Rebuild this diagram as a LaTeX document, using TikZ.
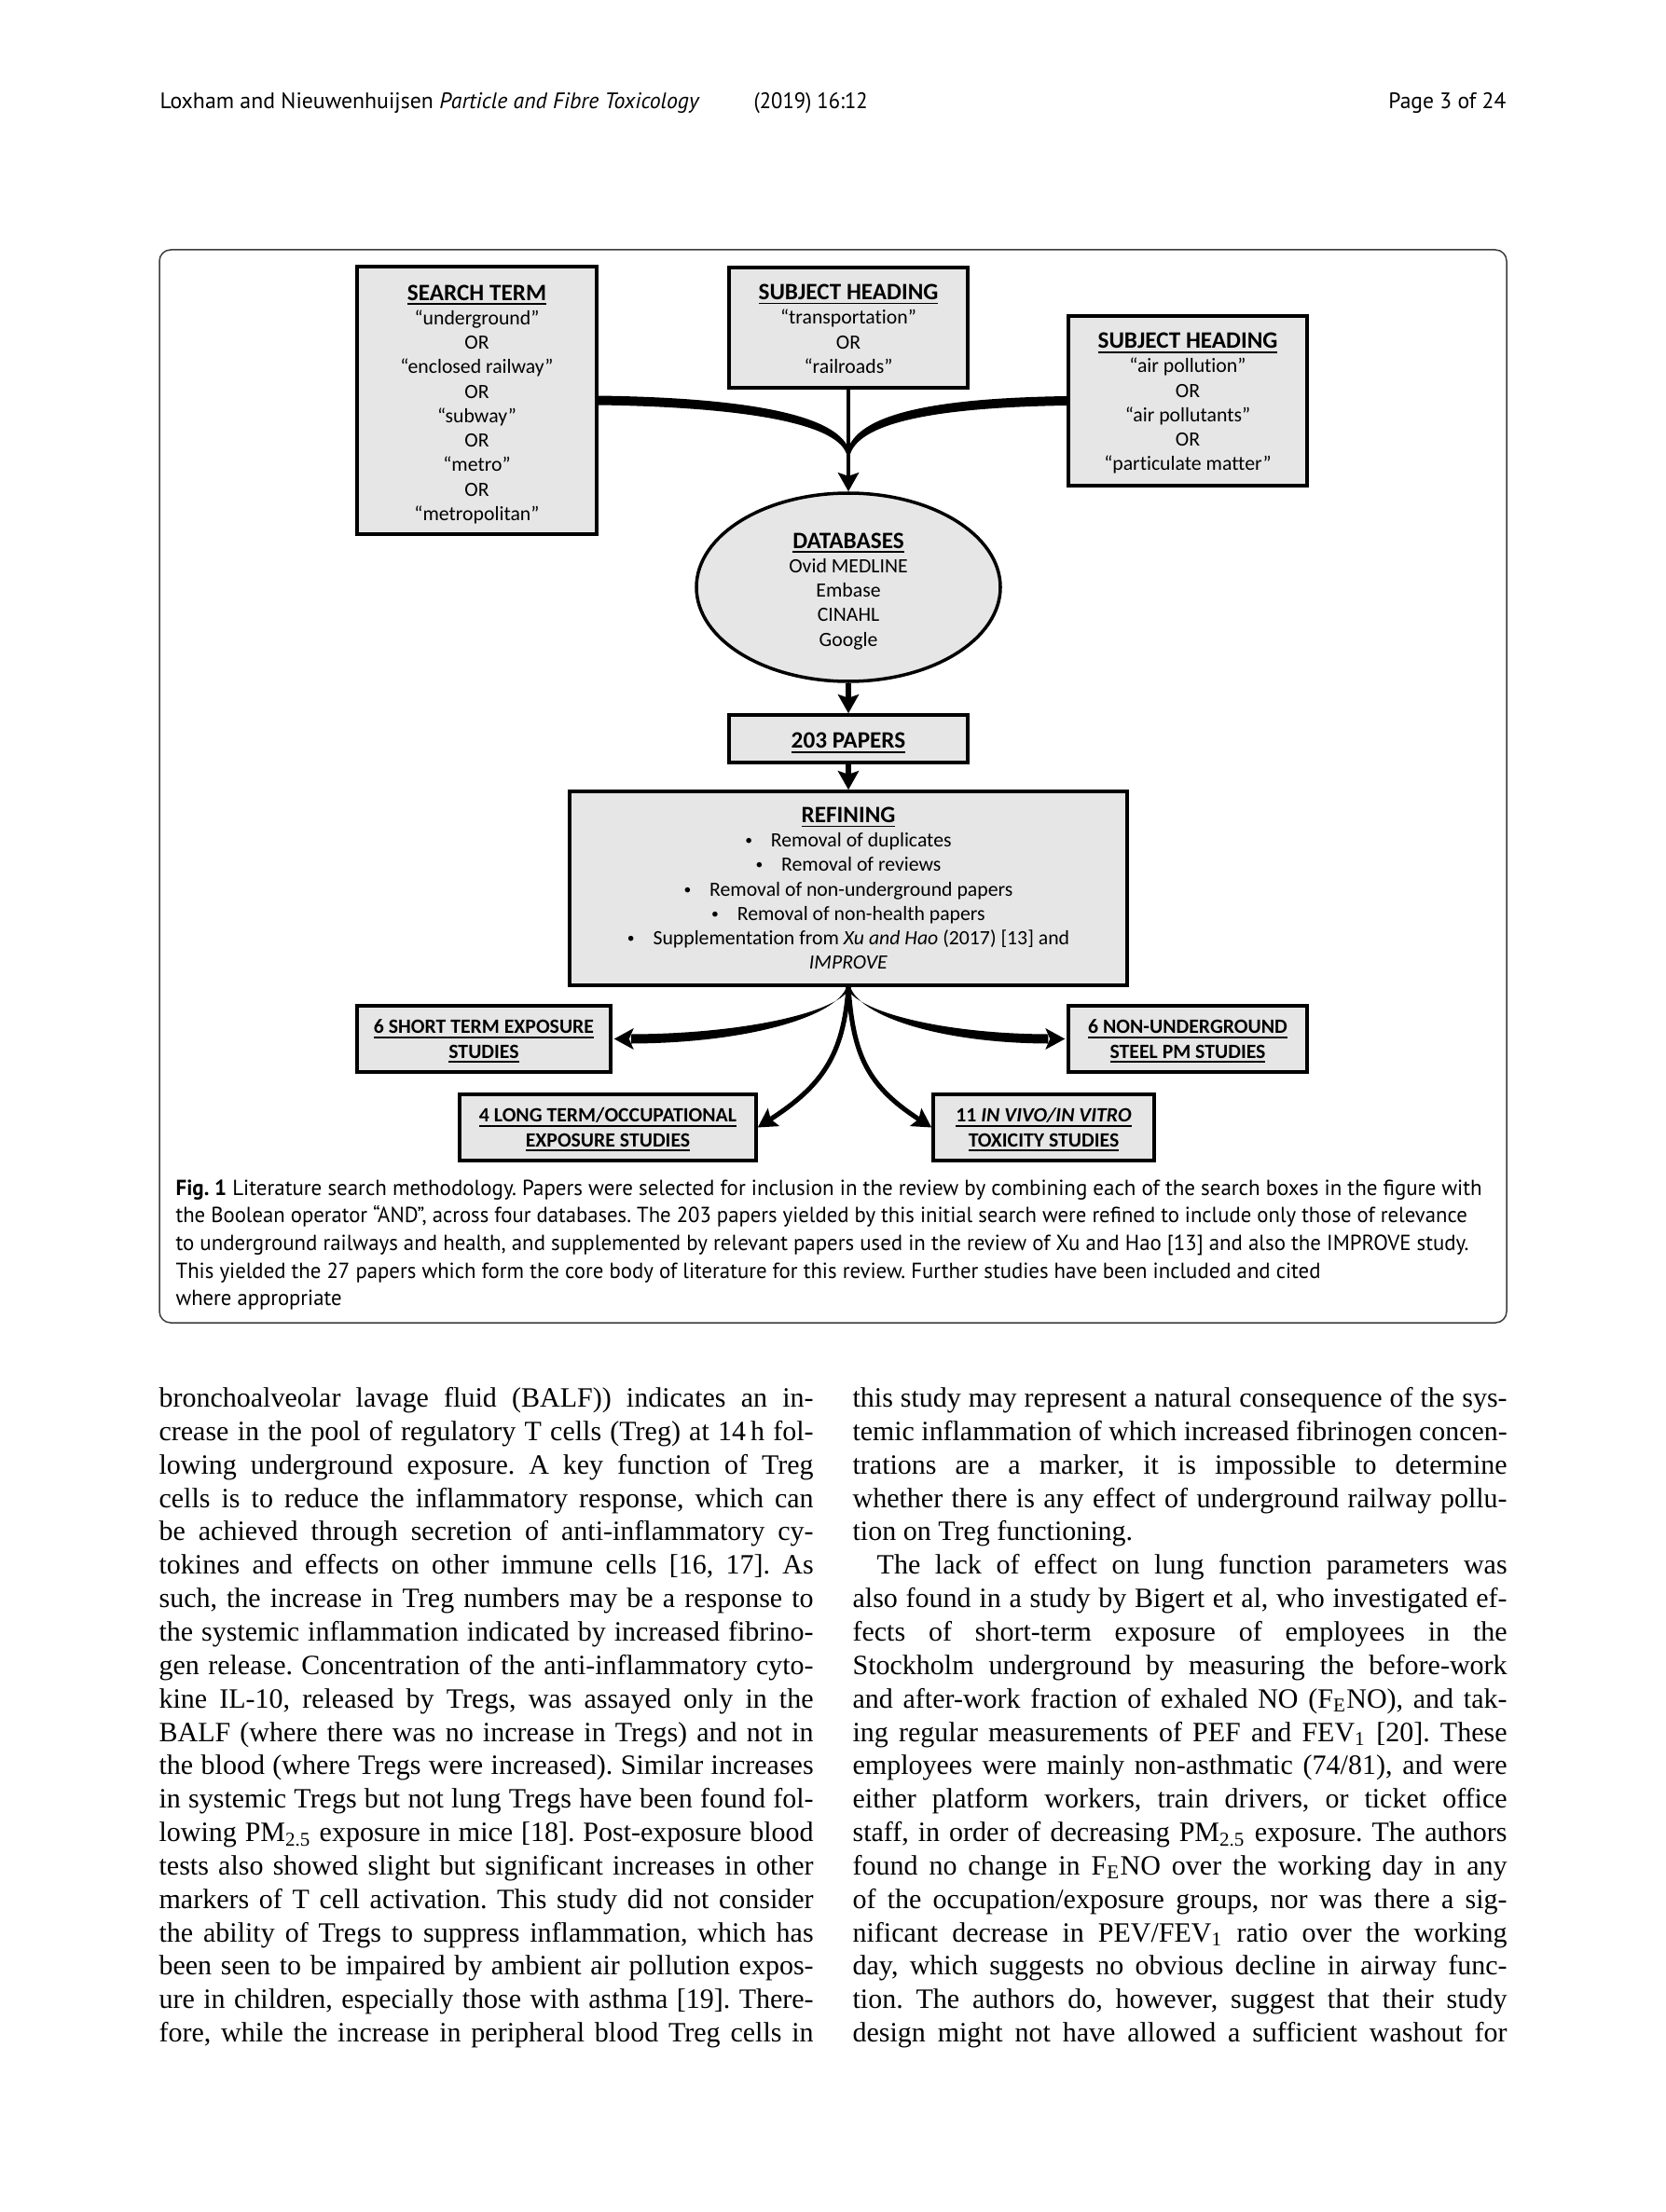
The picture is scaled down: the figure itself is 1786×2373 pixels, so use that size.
\documentclass[tikz,border=0pt]{standalone}
\usepackage{fontspec}
\usepackage{graphicx}
\setmainfont{Liberation Serif}
\newfontfamily\calfont{Carlito}[Ligatures=NoCommon]
\newfontfamily\ptfont{PT Sans}
\usetikzlibrary{arrows.meta,shapes.geometric,calc}
\definecolor{boxgray}{RGB}{230,230,230}
\definecolor{framegray}{RGB}{60,60,60}
\newlength\colw \setlength\colw{234pt}
\frenchspacing
\newcommand\jl[1]{\setbox0=\hbox{#1}\ifdim\wd0>\colw\resizebox{\colw}{\height}{#1}\else\hbox to\colw{#1}\fi}
\newcommand\fw[2]{\resizebox{#1}{\height}{#2}}
\newcommand\myul[1]{\setbox2=\hbox{#1}\rlap{\rule[-1.6pt]{\wd2}{0.55pt}}\box2}
\newcommand\ttl[1]{{\fontsize{8.4}{8.75}\selectfont\bfseries\myul{#1}}}
\newcommand\btl[1]{{\bfseries\myul{#1}}}
\newcommand\bul[1]{\makebox[9.2pt][l]{\raisebox{0.7pt}{\fontsize{5.2}{6}\selectfont\textbullet}}#1}
\newcommand\topgap[1]{\mbox{}\\[#1]}
\begin{document}
\begin{tikzpicture}[x=0.333333pt,y=-0.333333pt,
  box/.style={draw=black, line width=1.17pt, fill=boxgray, inner sep=0pt, align=center,
    font=\calfont\fontsize{7.25}{8.75}\selectfont},
  arr/.style={line width=1.9pt, -{Stealth[length=6.7pt,width=7.4pt,inset=1.2pt]}},
  inarr/.style={line width=1.7pt, -{Stealth[length=6.7pt,width=7.4pt,inset=1.2pt]}},
  bodytxt/.style={anchor=base west, inner sep=0pt, font=\fontsize{10}{12}\selectfont},
  captxt/.style={anchor=base west, inner sep=0pt, font=\ptfont\fontsize{7.8}{9.9}\selectfont},
  hdrtxt/.style={inner sep=0pt, font=\ptfont\fontsize{8}{9.6}\selectfont}]
\useasboundingbox (0,0) rectangle (1786,2373);
\fill[white] (0,0) rectangle (1786,2373);

% header
\node[hdrtxt, anchor=base west] (h1) at (171,117) {\fw{193pt}{Loxham and Nieuwenhuijsen \textit{Particle and Fibre Toxicology}}};
\node[hdrtxt, anchor=base west] (h2) at (808,117) {\fw{40.67pt}{(2019) 16:12}};
\node[hdrtxt, anchor=base east] (h3) at (1616,117) {\fw{42pt}{Page 3 of 24}};

% figure frame
\draw[line width=0.5pt, draw=framegray, rounded corners=4pt] (171,268) rectangle (1616,1419);

% boxes
\node[box, minimum width=85.67pt, minimum height=95.67pt] (search) at (511.5,429.5)
  {\topgap{-0.35pt}\ttl{SEARCH TERM}\\“underground”\\OR\\“enclosed railway”\\OR\\“subway”\\OR\\“metro”\\OR\\“metropolitan”};
\node[box, minimum width=85.33pt, minimum height=43pt] (msub) at (910,351.5)
  {\topgap{-2.35pt}\ttl{SUBJECT HEADING}\\“transportation”\\OR\\“railroads”};
\node[box, minimum width=85.33pt, minimum height=60.67pt] (rsub) at (1274,430)
  {\topgap{-1.35pt}\ttl{SUBJECT HEADING}\\“air pollution”\\OR\\“air pollutants”\\OR\\“particulate matter”};
\node[box, ellipse, minimum width=108.67pt, minimum height=67.33pt] (db) at (910,630)
  {\topgap{-0.35pt}\ttl{DATABASES}\\Ovid MEDLINE\\Embase\\CINAHL\\Google};
\node[box, minimum width=85.33pt, minimum height=17pt] (papers) at (910,792.5)
  {\topgap{-0.35pt}\ttl{203 PAPERS}};
\node[box, minimum width=199.33pt, minimum height=69.33pt] (refining) at (910,953)
  {\ttl{REFINING}\\\bul{Removal of duplicates}\\\bul{Removal of reviews}\\\bul{Removal of non-underground papers}\\\bul{Removal of non-health papers}\\\bul{Supplementation from \textit{Xu and Hao} (2017) [13] and}\\\textit{IMPROVE}};
\node[box, minimum width=90.67pt, minimum height=23.67pt] (short) at (519,1114.5)
  {\topgap{-2.1pt}\btl{6 SHORT TERM EXPOSURE}\\\btl{STUDIES}};
\node[box, minimum width=85.33pt, minimum height=23.67pt] (nonund) at (1274,1114.5)
  {\topgap{-2.1pt}\btl{6 NON-UNDERGROUND}\\\btl{STEEL PM STUDIES}};
\node[box, minimum width=106pt, minimum height=23.67pt] (long) at (652,1209.5)
  {\topgap{-2.1pt}\btl{4 LONG TERM/OCCUPATIONAL}\\\btl{EXPOSURE STUDIES}};
\node[box, minimum width=79pt, minimum height=23.67pt] (invivo) at (1119.5,1209.5)
  {\topgap{-2.1pt}\btl{11 {\itshape IN VIVO/IN VITRO}}\\\btl{TOXICITY STUDIES}};

% top connectors
\coordinate (merge) at (910,487);
\draw[line width=1.6pt, -{Stealth[length=6.7pt,width=7.4pt,inset=1.2pt]}] (msub.south) -- (db.north);
\fill[black] ($(search.east)+(0,-5)$) .. controls ($(search.east)+(140,-3)$) and ($(merge)+(-6,-46)$) .. ($(merge)+(2,0)$)
  -- ($(merge)+(-2,0)$) .. controls ($(merge)+(-14,-36)$) and ($(search.east)+(140,7)$) .. ($(search.east)+(0,5)$) -- cycle;
\fill[black] ($(rsub.west)+(0,-5)$) .. controls ($(rsub.west)+(-130,-3)$) and ($(merge)+(6,-46)$) .. ($(merge)+(-2,0)$)
  -- ($(merge)+(2,0)$) .. controls ($(merge)+(14,-36)$) and ($(rsub.west)+(-130,7)$) .. ($(rsub.west)+(0,5)$) -- cycle;
\draw[arr] (db.south) -- (papers.north);
\draw[arr] (papers.south) -- (refining.north);

% bottom connectors
\fill[black] ($(refining.south)+(2,0)$) .. controls ($(refining.south)+(-7,26)$) and ($(short.east)+(145,-5.5)$) .. ($(short.east)+(20,-5)$)
  -- ($(short.east)+(20,5)$) .. controls ($(short.east)+(145,4.5)$) and ($(refining.south)+(-13,32)$) .. ($(refining.south)+(-2,0)$) -- cycle;
\fill[black] ($(short.east)+(2,0)$) -- ($(short.east)+(23,-11.5)$) -- ($(short.east)+(18,0)$) -- ($(short.east)+(23,11.5)$) -- cycle;
\fill[black] ($(refining.south)+(-2,0)$) .. controls ($(refining.south)+(7,26)$) and ($(nonund.west)+(-135,-5.5)$) .. ($(nonund.west)+(-20,-5)$)
  -- ($(nonund.west)+(-20,5)$) .. controls ($(nonund.west)+(-135,4.5)$) and ($(refining.south)+(13,32)$) .. ($(refining.south)+(2,0)$) -- cycle;
\fill[black] ($(nonund.west)+(-2,0)$) -- ($(nonund.west)+(-23,-11.5)$) -- ($(nonund.west)+(-18,0)$) -- ($(nonund.west)+(-23,11.5)$) -- cycle;
\draw[inarr] (refining.south) .. controls ($(refining.south)+(-5,73)$) and ($(long.east)+(69,-44.5)$) .. (long.east);
\draw[inarr] (refining.south) .. controls ($(refining.south)+(5,73)$) and ($(invivo.west)+(-69,-44.5)$) .. (invivo.west);

% caption
\node[captxt] (c1) at (188,1282) {\fw{467pt}{\textbf{Fig. 1} Literature search methodology. Papers were selected for inclusion in the review by combining each of the search boxes in the figure with}};
\node[captxt] (c2) at (188,1311.7) {\fw{461.7pt}{the Boolean operator “AND”, across four databases. The 203 papers yielded by this initial search were refined to include only those of relevance}};
\node[captxt] (c3) at (188,1341.4) {\fw{462.3pt}{to underground railways and health, and supplemented by relevant papers used in the review of Xu and Hao [13] and also the IMPROVE study.}};
\node[captxt] (c4) at (188,1371.1) {\fw{409.3pt}{This yielded the 27 papers which form the core body of literature for this review. Further studies have been included and cited}};
\node[captxt] (c5) at (188,1400.8) {\fw{59.3pt}{where appropriate}};

% body text, left column
\node[bodytxt] (l1) at (170,{1509.5+35.85*0}) {\jl{bronchoalveolar lavage fluid (BALF)) indicates an in-}};
\node[bodytxt] (l2) at (170,{1509.5+35.85*1}) {\jl{crease in the pool of regulatory T cells (Treg) at 14\,h fol-}};
\node[bodytxt] (l3) at (170,{1509.5+35.85*2}) {\jl{lowing underground exposure. A key function of Treg}};
\node[bodytxt] (l4) at (170,{1509.5+35.85*3}) {\jl{cells is to reduce the inflammatory response, which can}};
\node[bodytxt] (l5) at (170,{1509.5+35.85*4}) {\jl{be achieved through secretion of anti-inflammatory cy-}};
\node[bodytxt] (l6) at (170,{1509.5+35.85*5}) {\jl{tokines and effects on other immune cells [16, 17]. As}};
\node[bodytxt] (l7) at (170,{1509.5+35.85*6}) {\jl{such, the increase in Treg numbers may be a response to}};
\node[bodytxt] (l8) at (170,{1509.5+35.85*7}) {\jl{the systemic inflammation indicated by increased fibrino-}};
\node[bodytxt] (l9) at (170,{1509.5+35.85*8}) {\jl{gen release. Concentration of the anti-inflammatory cyto-}};
\node[bodytxt] (l10) at (170,{1509.5+35.85*9}) {\jl{kine IL-10, released by Tregs, was assayed only in the}};
\node[bodytxt] (l11) at (170,{1509.5+35.85*10}) {\jl{BALF (where there was no increase in Tregs) and not in}};
\node[bodytxt] (l12) at (170,{1509.5+35.85*11}) {\jl{the blood (where Tregs were increased). Similar increases}};
\node[bodytxt] (l13) at (170,{1509.5+35.85*12}) {\jl{in systemic Tregs but not lung Tregs have been found fol-}};
\node[bodytxt] (l14) at (170,{1509.5+35.85*13}) {\jl{lowing PM\textsubscript{2.5} exposure in mice [18]. Post-exposure blood}};
\node[bodytxt] (l15) at (170,{1509.5+35.85*14}) {\jl{tests also showed slight but significant increases in other}};
\node[bodytxt] (l16) at (170,{1509.5+35.85*15}) {\jl{markers of T cell activation. This study did not consider}};
\node[bodytxt] (l17) at (170,{1509.5+35.85*16}) {\jl{the ability of Tregs to suppress inflammation, which has}};
\node[bodytxt] (l18) at (170,{1509.5+35.85*17}) {\jl{been seen to be impaired by ambient air pollution expos-}};
\node[bodytxt] (l19) at (170,{1509.5+35.85*18}) {\jl{ure in children, especially those with asthma [19]. There-}};
\node[bodytxt] (l20) at (170,{1509.5+35.85*19}) {\jl{fore, while the increase in peripheral blood Treg cells in}};

% body text, right column
\node[bodytxt] (r1) at (914,{1509.5+35.85*0}) {\jl{this study may represent a natural consequence of the sys-}};
\node[bodytxt] (r2) at (914,{1509.5+35.85*1}) {\jl{temic inflammation of which increased fibrinogen concen-}};
\node[bodytxt] (r3) at (914,{1509.5+35.85*2}) {\jl{trations are a marker, it is impossible to determine}};
\node[bodytxt] (r4) at (914,{1509.5+35.85*3}) {\jl{whether there is any effect of underground railway pollu-}};
\node[bodytxt] (r5) at (914,{1509.5+35.85*4}) {tion on Treg functioning.};
\node[bodytxt] (r6) at (914,{1509.5+35.85*5}) {\jl{\hskip 8.7pt\relax The lack of effect on lung function parameters was}};
\node[bodytxt] (r7) at (914,{1509.5+35.85*6}) {\jl{also found in a study by Bigert et al, who investigated ef-}};
\node[bodytxt] (r8) at (914,{1509.5+35.85*7}) {\jl{fects of short-term exposure of employees in the}};
\node[bodytxt] (r9) at (914,{1509.5+35.85*8}) {\jl{Stockholm underground by measuring the before-work}};
\node[bodytxt] (r10) at (914,{1509.5+35.85*9}) {\jl{and after-work fraction of exhaled NO (F\textsubscript{E}NO), and tak-}};
\node[bodytxt] (r11) at (914,{1509.5+35.85*10}) {\jl{ing regular measurements of PEF and FEV\textsubscript{1} [20]. These}};
\node[bodytxt] (r12) at (914,{1509.5+35.85*11}) {\jl{employees were mainly non-asthmatic (74/81), and were}};
\node[bodytxt] (r13) at (914,{1509.5+35.85*12}) {\jl{either platform workers, train drivers, or ticket office}};
\node[bodytxt] (r14) at (914,{1509.5+35.85*13}) {\jl{staff, in order of decreasing PM\textsubscript{2.5} exposure. The authors}};
\node[bodytxt] (r15) at (914,{1509.5+35.85*14}) {\jl{found no change in F\textsubscript{E}NO over the working day in any}};
\node[bodytxt] (r16) at (914,{1509.5+35.85*15}) {\jl{of the occupation/exposure groups, nor was there a sig-}};
\node[bodytxt] (r17) at (914,{1509.5+35.85*16}) {\jl{nificant decrease in PEV/FEV\textsubscript{1} ratio over the working}};
\node[bodytxt] (r18) at (914,{1509.5+35.85*17}) {\jl{day, which suggests no obvious decline in airway func-}};
\node[bodytxt] (r19) at (914,{1509.5+35.85*18}) {\jl{tion. The authors do, however, suggest that their study}};
\node[bodytxt] (r20) at (914,{1509.5+35.85*19}) {\jl{design might not have allowed a sufficient washout for}};
\end{tikzpicture}
\end{document}
